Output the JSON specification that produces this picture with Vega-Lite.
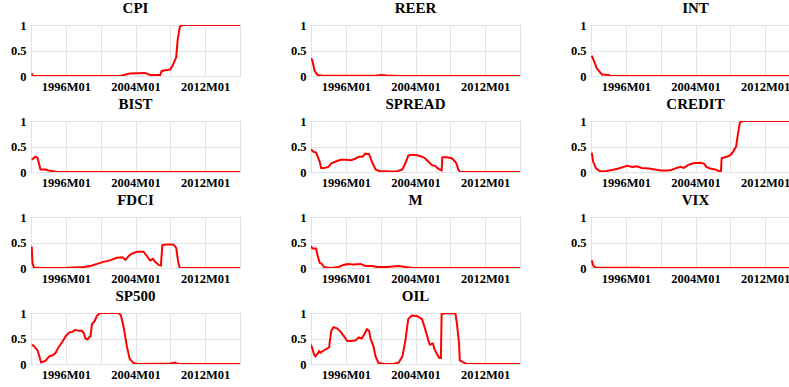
{
  "$schema": "https://vega.github.io/schema/vega-lite/v6.json",
  "padding": {"left": 9, "top": 0, "right": 0, "bottom": 0},
  "background": "white",
  "data": {"values": [
    {"v":"CPI","d":"1992-02","y":0.05},{"v":"CPI","d":"1992-04","y":0.0},{"v":"CPI","d":"2002-04","y":0.0},{"v":"CPI","d":"2003-05","y":0.05},{"v":"CPI","d":"2005-02","y":0.06},{"v":"CPI","d":"2005-09","y":0.02},{"v":"CPI","d":"2006-11","y":0.02},{"v":"CPI","d":"2007-01","y":0.1},{"v":"CPI","d":"2008-01","y":0.13},{"v":"CPI","d":"2008-04","y":0.2},{"v":"CPI","d":"2008-08","y":0.33},{"v":"CPI","d":"2008-09","y":0.36},{"v":"CPI","d":"2008-11","y":0.7},{"v":"CPI","d":"2009-02","y":0.97},{"v":"CPI","d":"2009-06","y":1.0},{"v":"CPI","d":"2016-01","y":1.0},
    {"v":"REER","d":"1992-01","y":0.35},{"v":"REER","d":"1992-03","y":0.3},{"v":"REER","d":"1992-06","y":0.1},{"v":"REER","d":"1992-10","y":0.02},{"v":"REER","d":"1993-06","y":0.005},{"v":"REER","d":"1999-06","y":0.005},{"v":"REER","d":"2000-01","y":0.02},{"v":"REER","d":"2000-10","y":0.01},{"v":"REER","d":"2002-01","y":0.0},{"v":"REER","d":"2016-01","y":0.0},
    {"v":"INT","d":"1992-02","y":0.4},{"v":"INT","d":"1992-05","y":0.3},{"v":"INT","d":"1992-09","y":0.15},{"v":"INT","d":"1993-01","y":0.08},{"v":"INT","d":"1993-03","y":0.05},{"v":"INT","d":"1993-04","y":0.03},{"v":"INT","d":"1994-01","y":0.02},{"v":"INT","d":"1994-04","y":0.0},{"v":"INT","d":"2016-01","y":0.0},
    {"v":"BIST","d":"1992-02","y":0.24},{"v":"BIST","d":"1992-07","y":0.3},{"v":"BIST","d":"1992-10","y":0.28},{"v":"BIST","d":"1993-02","y":0.05},{"v":"BIST","d":"1993-09","y":0.05},{"v":"BIST","d":"1994-01","y":0.03},{"v":"BIST","d":"1994-09","y":0.01},{"v":"BIST","d":"1995-01","y":0.0},{"v":"BIST","d":"2016-01","y":0.0},
    {"v":"SPREAD","d":"1992-01","y":0.45},{"v":"SPREAD","d":"1992-04","y":0.4},{"v":"SPREAD","d":"1992-08","y":0.38},{"v":"SPREAD","d":"1993-01","y":0.2},{"v":"SPREAD","d":"1993-03","y":0.08},{"v":"SPREAD","d":"1993-07","y":0.08},{"v":"SPREAD","d":"1994-01","y":0.1},{"v":"SPREAD","d":"1994-05","y":0.17},{"v":"SPREAD","d":"1994-12","y":0.21},{"v":"SPREAD","d":"1995-06","y":0.24},{"v":"SPREAD","d":"1996-01","y":0.24},{"v":"SPREAD","d":"1996-08","y":0.23},{"v":"SPREAD","d":"1997-02","y":0.26},{"v":"SPREAD","d":"1997-07","y":0.3},{"v":"SPREAD","d":"1997-12","y":0.3},{"v":"SPREAD","d":"1998-04","y":0.36},{"v":"SPREAD","d":"1998-09","y":0.35},{"v":"SPREAD","d":"1999-01","y":0.2},{"v":"SPREAD","d":"1999-06","y":0.05},{"v":"SPREAD","d":"1999-11","y":0.02},{"v":"SPREAD","d":"2001-02","y":0.01},{"v":"SPREAD","d":"2001-11","y":0.01},{"v":"SPREAD","d":"2002-07","y":0.05},{"v":"SPREAD","d":"2002-12","y":0.2},{"v":"SPREAD","d":"2003-03","y":0.32},{"v":"SPREAD","d":"2003-08","y":0.34},{"v":"SPREAD","d":"2004-03","y":0.33},{"v":"SPREAD","d":"2004-10","y":0.3},{"v":"SPREAD","d":"2005-02","y":0.27},{"v":"SPREAD","d":"2005-07","y":0.2},{"v":"SPREAD","d":"2005-12","y":0.13},{"v":"SPREAD","d":"2006-04","y":0.12},{"v":"SPREAD","d":"2006-07","y":0.08},{"v":"SPREAD","d":"2006-11","y":0.04},{"v":"SPREAD","d":"2007-01","y":0.03},{"v":"SPREAD","d":"2007-02","y":0.29},{"v":"SPREAD","d":"2007-08","y":0.29},{"v":"SPREAD","d":"2008-03","y":0.27},{"v":"SPREAD","d":"2008-09","y":0.18},{"v":"SPREAD","d":"2008-12","y":0.05},{"v":"SPREAD","d":"2009-02","y":0.0},{"v":"SPREAD","d":"2016-01","y":0.0},
    {"v":"CREDIT","d":"1992-02","y":0.38},{"v":"CREDIT","d":"1992-04","y":0.2},{"v":"CREDIT","d":"1992-08","y":0.07},{"v":"CREDIT","d":"1993-01","y":0.02},{"v":"CREDIT","d":"1993-07","y":0.01},{"v":"CREDIT","d":"1994-02","y":0.03},{"v":"CREDIT","d":"1994-09","y":0.05},{"v":"CREDIT","d":"1995-03","y":0.07},{"v":"CREDIT","d":"1995-10","y":0.1},{"v":"CREDIT","d":"1996-03","y":0.12},{"v":"CREDIT","d":"1996-10","y":0.1},{"v":"CREDIT","d":"1997-04","y":0.11},{"v":"CREDIT","d":"1997-11","y":0.08},{"v":"CREDIT","d":"1998-09","y":0.07},{"v":"CREDIT","d":"1999-05","y":0.05},{"v":"CREDIT","d":"2000-01","y":0.03},{"v":"CREDIT","d":"2000-10","y":0.03},{"v":"CREDIT","d":"2001-04","y":0.04},{"v":"CREDIT","d":"2001-11","y":0.08},{"v":"CREDIT","d":"2002-04","y":0.1},{"v":"CREDIT","d":"2002-09","y":0.08},{"v":"CREDIT","d":"2003-03","y":0.14},{"v":"CREDIT","d":"2003-10","y":0.17},{"v":"CREDIT","d":"2004-08","y":0.18},{"v":"CREDIT","d":"2005-01","y":0.16},{"v":"CREDIT","d":"2005-04","y":0.1},{"v":"CREDIT","d":"2005-09","y":0.07},{"v":"CREDIT","d":"2006-04","y":0.05},{"v":"CREDIT","d":"2006-09","y":0.02},{"v":"CREDIT","d":"2006-12","y":0.0},{"v":"CREDIT","d":"2007-01","y":0.27},{"v":"CREDIT","d":"2007-08","y":0.3},{"v":"CREDIT","d":"2008-01","y":0.33},{"v":"CREDIT","d":"2008-05","y":0.4},{"v":"CREDIT","d":"2008-09","y":0.5},{"v":"CREDIT","d":"2008-11","y":0.7},{"v":"CREDIT","d":"2009-02","y":0.97},{"v":"CREDIT","d":"2009-06","y":1.0},{"v":"CREDIT","d":"2016-01","y":1.0},
    {"v":"FDCI","d":"1992-02","y":0.42},{"v":"FDCI","d":"1992-03","y":0.1},{"v":"FDCI","d":"1992-05","y":0.01},{"v":"FDCI","d":"1993-06","y":0.0},{"v":"FDCI","d":"1996-03","y":0.005},{"v":"FDCI","d":"1998-02","y":0.02},{"v":"FDCI","d":"1998-11","y":0.04},{"v":"FDCI","d":"1999-08","y":0.08},{"v":"FDCI","d":"2000-05","y":0.12},{"v":"FDCI","d":"2001-02","y":0.15},{"v":"FDCI","d":"2001-11","y":0.2},{"v":"FDCI","d":"2002-07","y":0.21},{"v":"FDCI","d":"2002-11","y":0.16},{"v":"FDCI","d":"2003-04","y":0.24},{"v":"FDCI","d":"2003-08","y":0.28},{"v":"FDCI","d":"2004-03","y":0.32},{"v":"FDCI","d":"2004-12","y":0.32},{"v":"FDCI","d":"2005-04","y":0.25},{"v":"FDCI","d":"2005-09","y":0.15},{"v":"FDCI","d":"2006-01","y":0.18},{"v":"FDCI","d":"2006-04","y":0.12},{"v":"FDCI","d":"2006-09","y":0.06},{"v":"FDCI","d":"2006-12","y":0.05},{"v":"FDCI","d":"2007-02","y":0.45},{"v":"FDCI","d":"2007-08","y":0.46},{"v":"FDCI","d":"2008-05","y":0.46},{"v":"FDCI","d":"2008-09","y":0.4},{"v":"FDCI","d":"2008-12","y":0.1},{"v":"FDCI","d":"2009-02","y":0.0},{"v":"FDCI","d":"2016-01","y":0.0},
    {"v":"M","d":"1992-01","y":0.43},{"v":"M","d":"1992-03","y":0.38},{"v":"M","d":"1992-08","y":0.38},{"v":"M","d":"1992-10","y":0.25},{"v":"M","d":"1993-01","y":0.1},{"v":"M","d":"1993-04","y":0.08},{"v":"M","d":"1993-07","y":0.02},{"v":"M","d":"1994-04","y":0.0},{"v":"M","d":"1995-03","y":0.02},{"v":"M","d":"1995-10","y":0.06},{"v":"M","d":"1996-03","y":0.08},{"v":"M","d":"1996-12","y":0.07},{"v":"M","d":"1997-09","y":0.08},{"v":"M","d":"1998-04","y":0.04},{"v":"M","d":"1999-01","y":0.04},{"v":"M","d":"1999-08","y":0.02},{"v":"M","d":"2000-10","y":0.02},{"v":"M","d":"2002-02","y":0.04},{"v":"M","d":"2002-11","y":0.02},{"v":"M","d":"2003-10","y":0.0},{"v":"M","d":"2016-01","y":0.0},
    {"v":"VIX","d":"1992-02","y":0.15},{"v":"VIX","d":"1992-04","y":0.05},{"v":"VIX","d":"1992-07","y":0.01},{"v":"VIX","d":"1993-01","y":0.005},{"v":"VIX","d":"1997-04","y":0.005},{"v":"VIX","d":"1998-01","y":0.0},{"v":"VIX","d":"2016-01","y":0.0},
    {"v":"SP500","d":"1992-02","y":0.37},{"v":"SP500","d":"1992-04","y":0.37},{"v":"SP500","d":"1992-08","y":0.3},{"v":"SP500","d":"1992-10","y":0.27},{"v":"SP500","d":"1993-03","y":0.03},{"v":"SP500","d":"1993-09","y":0.06},{"v":"SP500","d":"1994-02","y":0.15},{"v":"SP500","d":"1994-07","y":0.17},{"v":"SP500","d":"1994-11","y":0.22},{"v":"SP500","d":"1995-03","y":0.33},{"v":"SP500","d":"1995-08","y":0.43},{"v":"SP500","d":"1996-01","y":0.55},{"v":"SP500","d":"1996-06","y":0.62},{"v":"SP500","d":"1996-10","y":0.63},{"v":"SP500","d":"1997-02","y":0.67},{"v":"SP500","d":"1997-07","y":0.65},{"v":"SP500","d":"1997-11","y":0.65},{"v":"SP500","d":"1998-02","y":0.6},{"v":"SP500","d":"1998-04","y":0.5},{"v":"SP500","d":"1998-07","y":0.48},{"v":"SP500","d":"1998-09","y":0.52},{"v":"SP500","d":"1998-11","y":0.55},{"v":"SP500","d":"1999-01","y":0.78},{"v":"SP500","d":"1999-05","y":0.85},{"v":"SP500","d":"1999-08","y":0.95},{"v":"SP500","d":"2000-01","y":1.0},{"v":"SP500","d":"2002-02","y":1.0},{"v":"SP500","d":"2002-05","y":0.95},{"v":"SP500","d":"2002-09","y":0.7},{"v":"SP500","d":"2003-01","y":0.35},{"v":"SP500","d":"2003-05","y":0.1},{"v":"SP500","d":"2003-10","y":0.02},{"v":"SP500","d":"2004-03","y":0.0},{"v":"SP500","d":"2006-11","y":0.005},{"v":"SP500","d":"2008-01","y":0.01},{"v":"SP500","d":"2008-08","y":0.03},{"v":"SP500","d":"2008-10","y":0.01},{"v":"SP500","d":"2009-03","y":0.0},{"v":"SP500","d":"2016-01","y":0.0},
    {"v":"OIL","d":"1992-01","y":0.38},{"v":"OIL","d":"1992-03","y":0.3},{"v":"OIL","d":"1992-05","y":0.2},{"v":"OIL","d":"1992-07","y":0.15},{"v":"OIL","d":"1992-10","y":0.2},{"v":"OIL","d":"1992-12","y":0.25},{"v":"OIL","d":"1993-02","y":0.22},{"v":"OIL","d":"1993-07","y":0.27},{"v":"OIL","d":"1993-11","y":0.3},{"v":"OIL","d":"1994-02","y":0.33},{"v":"OIL","d":"1994-03","y":0.45},{"v":"OIL","d":"1994-05","y":0.65},{"v":"OIL","d":"1994-08","y":0.72},{"v":"OIL","d":"1995-01","y":0.7},{"v":"OIL","d":"1995-06","y":0.63},{"v":"OIL","d":"1995-10","y":0.55},{"v":"OIL","d":"1996-03","y":0.45},{"v":"OIL","d":"1996-08","y":0.45},{"v":"OIL","d":"1997-02","y":0.46},{"v":"OIL","d":"1997-07","y":0.52},{"v":"OIL","d":"1997-11","y":0.5},{"v":"OIL","d":"1998-03","y":0.6},{"v":"OIL","d":"1998-06","y":0.68},{"v":"OIL","d":"1998-09","y":0.65},{"v":"OIL","d":"1998-11","y":0.5},{"v":"OIL","d":"1999-03","y":0.35},{"v":"OIL","d":"1999-06","y":0.15},{"v":"OIL","d":"1999-10","y":0.02},{"v":"OIL","d":"2000-06","y":0.0},{"v":"OIL","d":"2001-07","y":0.0},{"v":"OIL","d":"2002-02","y":0.03},{"v":"OIL","d":"2002-07","y":0.15},{"v":"OIL","d":"2002-11","y":0.45},{"v":"OIL","d":"2003-03","y":0.88},{"v":"OIL","d":"2003-08","y":0.95},{"v":"OIL","d":"2004-03","y":0.94},{"v":"OIL","d":"2004-10","y":0.88},{"v":"OIL","d":"2005-02","y":0.7},{"v":"OIL","d":"2005-07","y":0.45},{"v":"OIL","d":"2005-09","y":0.38},{"v":"OIL","d":"2006-01","y":0.4},{"v":"OIL","d":"2006-03","y":0.3},{"v":"OIL","d":"2006-07","y":0.18},{"v":"OIL","d":"2006-10","y":0.12},{"v":"OIL","d":"2006-12","y":0.12},{"v":"OIL","d":"2007-01","y":0.98},{"v":"OIL","d":"2007-06","y":1.0},{"v":"OIL","d":"2008-08","y":0.99},{"v":"OIL","d":"2008-10","y":0.8},{"v":"OIL","d":"2009-01","y":0.4},{"v":"OIL","d":"2009-02","y":0.07},{"v":"OIL","d":"2009-07","y":0.03},{"v":"OIL","d":"2009-12","y":0.0},{"v":"OIL","d":"2016-01","y":0.0}
  ]},
  "facet": {
    "field": "v", "type": "nominal",
    "sort": ["CPI","REER","INT","BIST","SPREAD","CREDIT","FDCI","M","VIX","SP500","OIL"],
    "header": {"title": null, "labelFont": "Liberation Serif", "labelFontSize": 15, "labelFontWeight": "bold", "labelColor": "black", "labelPadding": 3}
  },
  "columns": 3,
  "spacing": {"column": 48, "row": 3},
  "resolve": {"axis": {"x": "independent", "y": "independent"}},
  "spec": {
    "width": 209,
    "height": 51,
    "mark": {"type": "line", "color": "#ff0000", "strokeWidth": 2, "clip": true},
    "encoding": {
      "x": {
        "field": "d", "type": "temporal", "title": null,
        "scale": {"domain": [{"year": 1992, "month": 1, "date": 1, "utc": true}, {"year": 2016, "month": 1, "date": 1, "utc": true}]},
        "axis": {
          "values": [
            {"year": 1992, "month": 1, "date": 1, "utc": true},
            {"year": 1996, "month": 1, "date": 1, "utc": true},
            {"year": 2000, "month": 1, "date": 1, "utc": true},
            {"year": 2004, "month": 1, "date": 1, "utc": true},
            {"year": 2008, "month": 1, "date": 1, "utc": true},
            {"year": 2012, "month": 1, "date": 1, "utc": true},
            {"year": 2016, "month": 1, "date": 1, "utc": true}
          ],
          "labelExpr": "utcyear(datum.value) % 8 == 4 ? utcFormat(datum.value, '%YM%m') : ''",
          "labelPadding": 4,
          "labelFont": "Liberation Serif", "labelFontSize": 12.5, "labelFontWeight": "bold", "labelColor": "black",
          "domain": false, "ticks": false, "grid": true, "gridColor": "#e3e3e3", "labelOverlap": false
        }
      },
      "y": {
        "field": "y", "type": "quantitative", "title": null,
        "scale": {"domain": [0, 1], "nice": false},
        "axis": {
          "values": [0, 0.5, 1], "format": "~g", "labelPadding": 5,
          "labelFont": "Liberation Serif", "labelFontSize": 12.5, "labelFontWeight": "bold", "labelColor": "black",
          "domain": false, "ticks": false, "grid": true, "gridColor": "#e3e3e3", "labelOverlap": false
        }
      }
    }
  },
  "config": {
    "view": {"stroke": "#8c8c8c", "strokeWidth": 1}
  }
}
